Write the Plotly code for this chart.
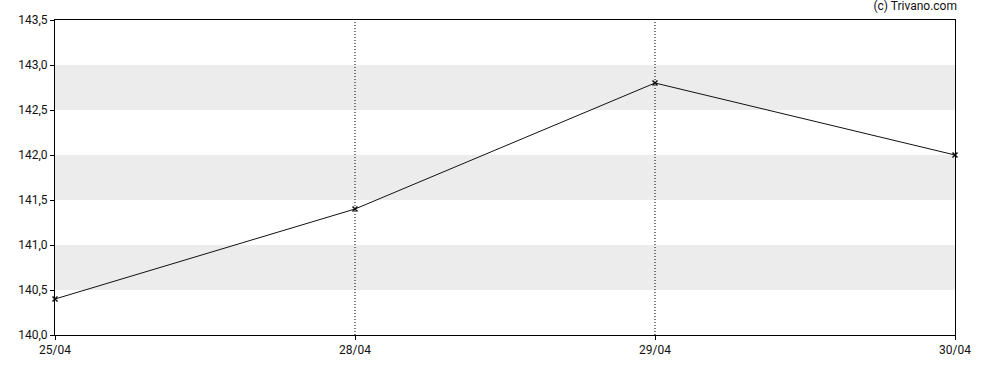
import plotly.graph_objects as go

dates = ["25/04", "28/04", "29/04", "30/04"]
prices = [140.4, 141.4, 142.8, 142.0]
y_min, y_max = 140.0, 143.5
band_ranges = [(140.5, 141.0), (141.5, 142.0), (142.5, 143.0)]
y_ticks = [140.0, 140.5, 141.0, 141.5, 142.0, 142.5, 143.0, 143.5]

x_idx = list(range(len(dates)))

fig = go.Figure()
fig.add_trace(go.Scatter(
    x=x_idx, y=prices, mode="lines+markers", cliponaxis=False,
    line=dict(color="#111111", width=1),
    marker=dict(symbol="x-thin", size=5, color="#111111",
                line=dict(width=1.5, color="#111111")),
    hoverinfo="skip", showlegend=False,
))

shapes = []
for lo, hi in band_ranges:
    shapes.append(dict(type="rect", xref="paper", yref="y", x0=0, x1=1,
                       y0=lo, y1=hi, fillcolor="#ececec", line=dict(width=0),
                       layer="below"))
for i in x_idx[1:-1]:
    shapes.append(dict(type="line", xref="x", yref="paper", x0=i, x1=i,
                       y0=0, y1=1, line=dict(color="black", width=1, dash="1px,2px"),
                       layer="below"))

fig.update_layout(
    width=988, height=370,
    margin=dict(l=55, r=33, t=20, b=35),
    paper_bgcolor="white", plot_bgcolor="white",
    separators=",.",
    font=dict(family="Roboto", size=12, color="#111111"),
    shapes=shapes,
    title=dict(text="(c) Trivano.com", xref="container", x=957 / 988, xanchor="right",
               yref="container", y=0.997, yanchor="top",
               font=dict(family="Roboto", size=12, color="#111111")),
    xaxis=dict(range=[0, len(dates) - 1], tickvals=x_idx, ticktext=dates,
               showgrid=False, zeroline=False, showline=True, mirror=True,
               linecolor="black", linewidth=1, ticks="outside", ticklen=4,
               tickcolor="black", tickfont=dict(size=12)),
    yaxis=dict(range=[y_min, y_max], tickvals=y_ticks, tickformat=".1f",
               showgrid=False, zeroline=False, showline=True, mirror=True,
               linecolor="black", linewidth=1, ticks="outside", ticklen=4,
               tickcolor="black", tickfont=dict(size=12)),
)

fig.write_html("out.html", config={"displayModeBar": False, "staticPlot": True},
               post_script="document.body.style.margin='0';document.body.style.overflow='hidden';")
